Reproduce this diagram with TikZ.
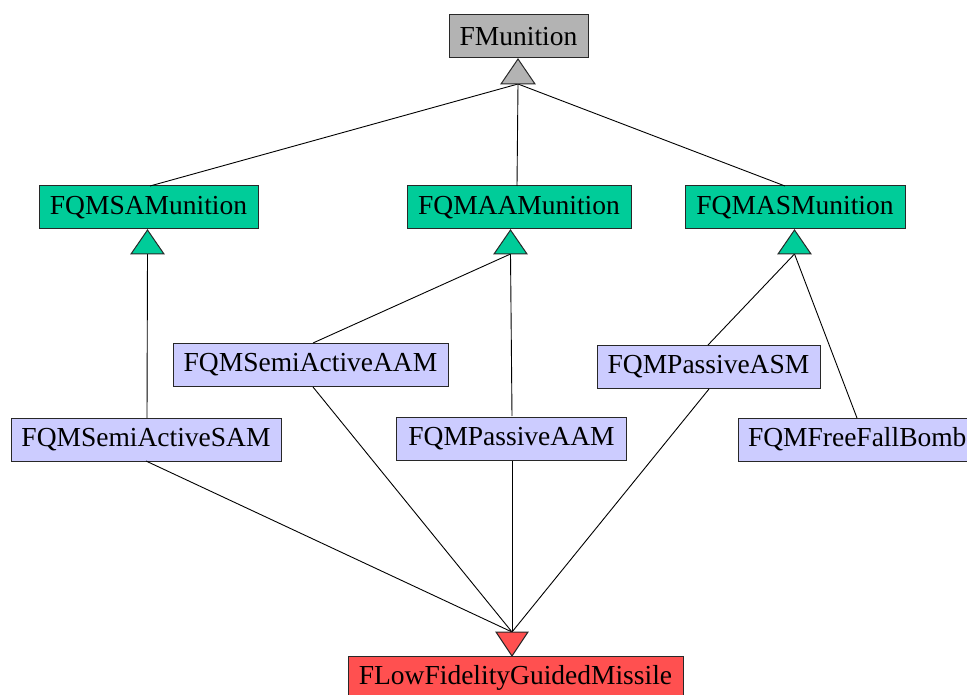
\documentclass[tikz,border=0pt]{standalone}
\usepackage{fontspec}
\setmainfont{Liberation Serif}
\definecolor{cgray}{RGB}{179,179,179}
\definecolor{cgreen}{RGB}{0,204,153}
\definecolor{clav}{RGB}{204,204,255}
\definecolor{cred}{RGB}{255,80,80}
\definecolor{cedge}{RGB}{40,40,40}
\begin{document}
\begin{tikzpicture}[x=1pt,y=-1pt,
  cls/.style={draw=cedge,line width=1pt,inner sep=0pt,minimum height=43pt,
    font=\fontsize{27.5}{33}\selectfont},
  gbox/.style={cls,fill=cgray},
  grbox/.style={cls,fill=cgreen},
  lbox/.style={cls,fill=clav},
  rbox/.style={cls,fill=cred},
  tri/.style={draw=cedge,line width=1pt,line join=miter},
  link/.style={draw=black,line width=0.9pt}]
\useasboundingbox (0,0) rectangle (967,695);
\clip (0,0) rectangle (967,695);
% boxes
\node[gbox,minimum width=139pt] (fm) at (518.5,36.5) {FMunition};
\node[grbox,minimum width=219pt] (sam) at (148.5,207.5) {FQMSAMunition};
\node[grbox,minimum width=224pt] (aam) at (519,207.5) {FQMAAMunition};
\node[grbox,minimum width=220pt] (asm) at (795,207.5) {FQMASMunition};
\node[lbox,minimum width=275pt] (saam) at (310.5,365) {FQMSemiActiveAAM};
\node[lbox,minimum width=223pt] (pasm) at (708.5,367) {FQMPassiveASM};
\node[lbox,minimum width=270pt] (ssam) at (146,439.5) {FQMSemiActiveSAM};
\node[lbox,minimum width=230pt] (paam) at (511.5,439) {FQMPassiveAAM};
\node[lbox,minimum width=238pt,text width=218pt,align=left] (ffb) at (857,439.5) {FQMFreeFallBomb};
\node[rbox,minimum width=335pt] (lfgm) at (515.5,678) {FLowFidelityGuidedMissile};
% triangle base points
\coordinate (tfm) at (518,84);
\coordinate (tsam) at (147.5,254);
\coordinate (taam) at (510.5,254);
\coordinate (tasm) at (794.5,254);
\coordinate (tlf) at (512,632);
% connectors
\draw[link] (tfm) -- (150,186);
\draw[link] (tfm) -- (517,186);
\draw[link] (tfm) -- (785,186);
\draw[link] (tsam) -- (147,418);
\draw[link] (taam) -- (313,343);
\draw[link] (taam) -- (512,416);
\draw[link] (tasm) -- (708,345);
\draw[link] (tasm) -- (857,418);
\draw[link] (146,461) -- (tlf);
\draw[link] (313,387) -- (tlf);
\draw[link] (512,461) -- (tlf);
\draw[link] (709,389) -- (tlf);
% triangles
\filldraw[tri,fill=cgray] (518,59) -- (501,84) -- (535,84) -- cycle;
\filldraw[tri,fill=cgreen] (147.5,230) -- (131,254) -- (164,254) -- cycle;
\filldraw[tri,fill=cgreen] (510.5,230) -- (494,254) -- (527,254) -- cycle;
\filldraw[tri,fill=cgreen] (794.5,230) -- (778,254) -- (811,254) -- cycle;
\filldraw[tri,fill=cred] (512,656) -- (496,632) -- (528,632) -- cycle;
\end{tikzpicture}
\end{document}
